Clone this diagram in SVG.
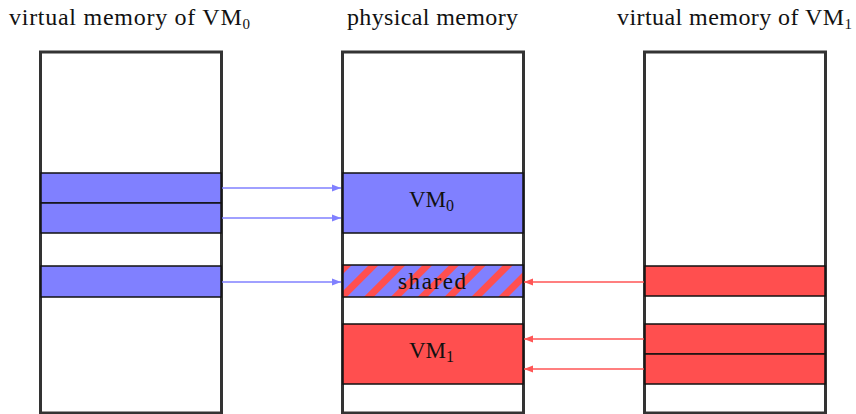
<svg xmlns="http://www.w3.org/2000/svg" width="856" height="414" viewBox="0 0 856 414">
<style>
.title{font-family:"Liberation Serif","DejaVu Serif",serif;font-size:24px;fill:#111}
.lbl{font-family:"Liberation Serif","DejaVu Serif",serif;font-size:23px;fill:#111}
.col{fill:#fff;stroke:#333;stroke-width:3}
.blue{fill:#8080ff;stroke:#111;stroke-width:1.5}
.red{fill:#ff4f4f;stroke:#111;stroke-width:1.5}
.ab{stroke:#8080ff;stroke-width:1.5;fill:none}
.ar{stroke:#ff5555;stroke-width:1.5;fill:none}
</style>
<defs>
<pattern id="hatch" patternUnits="userSpaceOnUse" width="19" height="19" patternTransform="translate(342,265) rotate(45)">
<rect width="19" height="19" fill="#8080ff"/>
<rect x="0" width="7" height="19" fill="#ff4f4f"/>
</pattern>
<marker id="mb" markerWidth="9" markerHeight="8" refX="9" refY="4" orient="auto" markerUnits="userSpaceOnUse">
<path d="M0,0.5 L9,4 L0,7.5 z" fill="#8080ff"/>
</marker>
<marker id="mr" markerWidth="9" markerHeight="8" refX="9" refY="4" orient="auto" markerUnits="userSpaceOnUse">
<path d="M0,0.5 L9,4 L0,7.5 z" fill="#ff5555"/>
</marker>
</defs>

<g id="vm0">
<text class="title" x="9" y="25" textLength="241" lengthAdjust="spacing">virtual memory of VM<tspan font-size="15" dy="4">0</tspan></text>
<rect class="col" x="40.5" y="52" width="181" height="361"/>
<rect class="blue" x="41" y="173" width="180" height="30"/>
<rect class="blue" x="41" y="203" width="180" height="30"/>
<rect class="blue" x="41" y="266" width="180" height="31"/>
</g>

<g id="phys">
<text class="title" x="347" y="25" textLength="171" lengthAdjust="spacing">physical memory</text>
<rect class="col" x="342.5" y="52" width="181" height="361"/>
<rect class="blue" x="343" y="173" width="180" height="60"/>
<rect x="343" y="265" width="180" height="32" fill="url(#hatch)" stroke="#111" stroke-width="1.5"/>
<rect class="red" x="343" y="324" width="180" height="60"/>
<text class="lbl" x="409" y="207">VM<tspan font-size="16" dy="3.5">0</tspan></text>
<text class="lbl" x="398" y="289" textLength="68" lengthAdjust="spacing">shared</text>
<text class="lbl" x="409" y="358">VM<tspan font-size="16" dy="3.5">1</tspan></text>
</g>

<g id="vm1">
<text class="title" x="617" y="25" textLength="235" lengthAdjust="spacing">virtual memory of VM<tspan font-size="15" dy="4">1</tspan></text>
<rect class="col" x="644.5" y="52" width="181" height="361"/>
<rect class="red" x="645" y="266" width="180" height="30"/>
<rect class="red" x="645" y="324" width="180" height="30"/>
<rect class="red" x="645" y="354" width="180" height="30"/>
</g>

<g id="connectors">
<line class="ab" x1="222" y1="188" x2="341" y2="188" marker-end="url(#mb)"/>
<line class="ab" x1="222" y1="218" x2="341" y2="218" marker-end="url(#mb)"/>
<line class="ab" x1="222" y1="282" x2="341" y2="282" marker-end="url(#mb)"/>
<line class="ar" x1="644" y1="282" x2="524" y2="282" marker-end="url(#mr)"/>
<line class="ar" x1="644" y1="339" x2="524" y2="339" marker-end="url(#mr)"/>
<line class="ar" x1="644" y1="369" x2="524" y2="369" marker-end="url(#mr)"/>
</g>
</svg>
